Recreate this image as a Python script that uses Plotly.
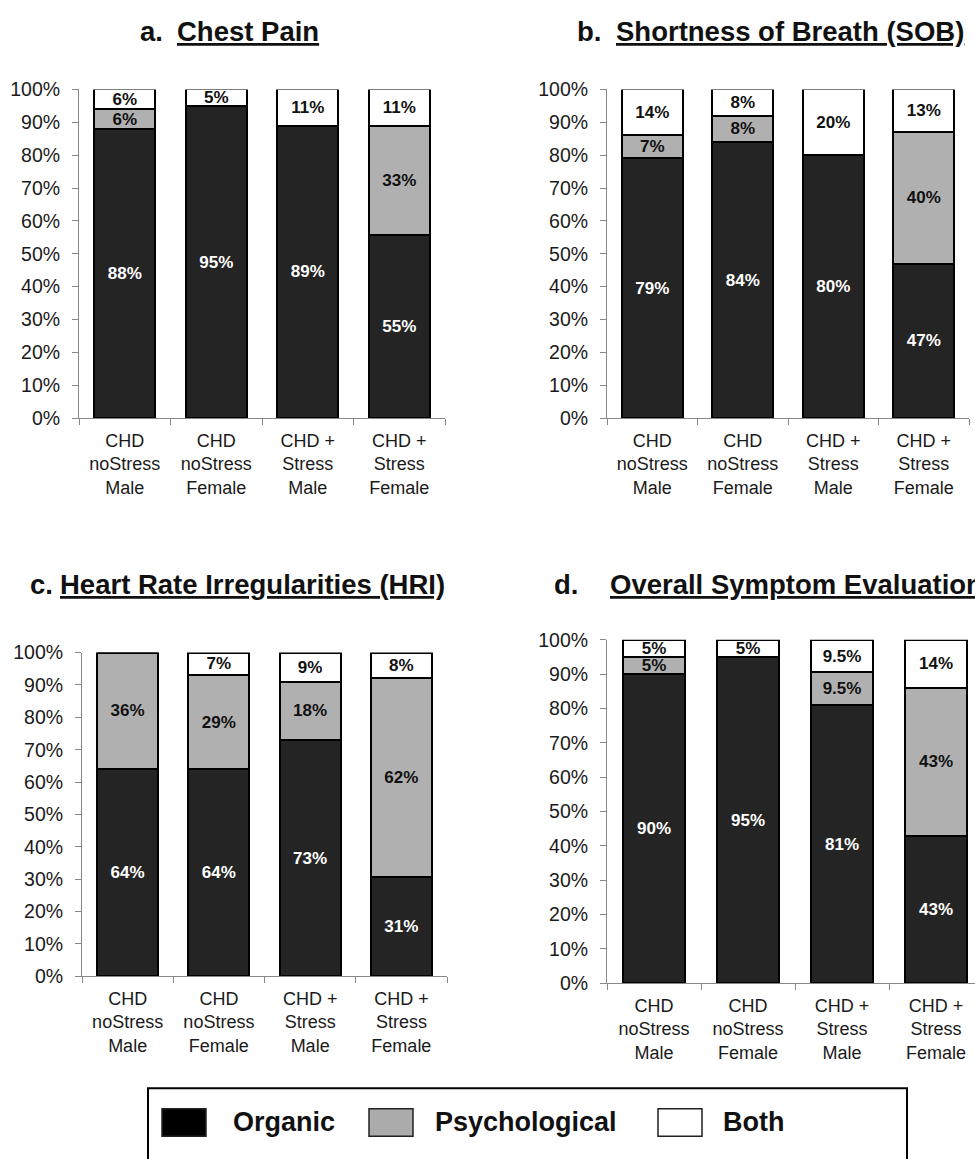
import plotly.graph_objects as go

W, H = 975, 1159
FONT = "Liberation Sans, Arial, sans-serif"

categories = ["CHD<br>noStress<br>Male", "CHD<br>noStress<br>Female",
              "CHD +<br>Stress<br>Male", "CHD +<br>Stress<br>Female"]
series_names = ["Organic", "Psychological", "Both"]
series_colors = ["#242424", "#b0b0b0", "#ffffff"]
label_colors = ["#ffffff", "#111111", "#111111"]
legend_colors = ["#000000", "#ababab", "#ffffff"]
y_ticks = [0, 10, 20, 30, 40, 50, 60, 70, 80, 90, 100]
y_ticktext = ["0%", "10%", "20%", "30%", "40%", "50%", "60%", "70%", "80%", "90%", "100%"]

# a. Chest Pain
a_organic = [88, 95, 89, 55.6]
a_psych = [6, 0, 0, 33.3]
a_both = [6, 5, 11, 11.1]
a_lab_organic = ["88%", "95%", "89%", "55%"]
a_lab_psych = ["6%", "", "", "33%"]
a_lab_both = ["6%", "5%", "11%", "11%"]

# b. Shortness of Breath
b_organic = [79, 84, 80, 47]
b_psych = [7, 8, 0, 40]
b_both = [14, 8, 20, 13]
b_lab_organic = ["79%", "84%", "80%", "47%"]
b_lab_psych = ["7%", "8%", "", "40%"]
b_lab_both = ["14%", "8%", "20%", "13%"]

# c. Heart Rate Irregularities
c_organic = [64, 64, 73, 30.8]
c_psych = [36, 29, 18, 61.5]
c_both = [0, 7, 9, 7.7]
c_lab_organic = ["64%", "64%", "73%", "31%"]
c_lab_psych = ["36%", "29%", "18%", "62%"]
c_lab_both = ["", "7%", "9%", "8%"]

# d. Overall Symptom Evaluation
d_organic = [90, 95, 81, 43]
d_psych = [5, 0, 9.5, 43]
d_both = [5, 5, 9.5, 14]
d_lab_organic = ["90%", "95%", "81%", "43%"]
d_lab_psych = ["5%", "", "9.5%", "43%"]
d_lab_both = ["5%", "5%", "9.5%", "14%"]

panels = [
    ("a.", "Chest Pain", (a_organic, a_psych, a_both), (a_lab_organic, a_lab_psych, a_lab_both)),
    ("b.", "Shortness of Breath (SOB)", (b_organic, b_psych, b_both), (b_lab_organic, b_lab_psych, b_lab_both)),
    ("c.", "Heart Rate Irregularities (HRI)", (c_organic, c_psych, c_both), (c_lab_organic, c_lab_psych, c_lab_both)),
    ("d.", "Overall Symptom Evaluation", (d_organic, d_psych, d_both), (d_lab_organic, d_lab_psych, d_lab_both)),
]

# layout geometry (pixels)
geom = [
    dict(x=(79, 445), y=(80, 415), xr=3.5, title=(138, 175, 21)),
    dict(x=(607, 969), y=(80, 415), xr=3.5, title=(575, 614, 21)),
    dict(x=(82, 447), y=(654, 984), xr=3.5, title=(28, 58, 585)),
    dict(x=(607, 975), y=(641, 991), xr=-0.5 + (975 - 607) / 94.0, title=(552, 608, 585)),
]

def px(x):
    return x / W

def py(y):
    return 1 - y / H

fig = go.Figure()
annotations = []
for i, ((letter, title, vals, labs), g) in enumerate(zip(panels, geom)):
    sfx = "" if i == 0 else str(i + 1)
    for k in range(3):
        fig.add_trace(go.Bar(
            x=categories, y=vals[k], name=series_names[k],
            text=labs[k], textposition="inside", insidetextanchor="middle",
            textangle=0,
            textfont=dict(family=FONT, size=17, color=label_colors[k], weight="bold"),
            marker=dict(color=series_colors[k], line=dict(color="#000000", width=2)),
            xaxis="x" + sfx, yaxis="y" + sfx, showlegend=False, hoverinfo="skip",
        ))
    xa = dict(
        domain=[px(g["x"][0]), px(g["x"][1])], anchor="y" + sfx,
        range=[-0.5, g["xr"]], type="category",
        showline=True, linecolor="#888888", linewidth=1,
        ticks="outside", tickson="boundaries", ticklen=6, tickcolor="#888888",
        tickfont=dict(family=FONT, size=18, color="#1a1a1a"),
        ticklabelstandoff=6, showgrid=False, zeroline=False, fixedrange=True,
    )
    ya = dict(
        domain=[py(g["y"][1]), py(g["y"][0])], anchor="x" + sfx,
        range=[0, 100], tickmode="array", tickvals=y_ticks, ticktext=y_ticktext,
        showline=True, linecolor="#888888", linewidth=1,
        ticks="outside", ticklen=6, tickcolor="#888888",
        tickfont=dict(family=FONT, size=19.5, color="#1a1a1a"),
        ticklabelstandoff=8, showgrid=False, zeroline=False, fixedrange=True,
    )
    fig.layout["xaxis" + sfx] = xa
    fig.layout["yaxis" + sfx] = ya
    tx0, tx1, ty = g["title"]
    annotations.append(dict(
        text="<b>" + letter + "</b>", x=px(tx0), y=py(ty), xref="paper", yref="paper",
        xanchor="left", yanchor="middle", showarrow=False,
        font=dict(family=FONT, size=27.5, color="#111111")))
    annotations.append(dict(
        text="<b><u>" + title + "</u></b>", x=px(tx1), y=py(ty), xref="paper", yref="paper",
        xanchor="left", yanchor="middle", showarrow=False,
        font=dict(family=FONT, size=27.5, color="#111111")))

# legend (drawn manually)
shapes = [dict(type="rect", xref="paper", yref="paper",
               x0=px(148), x1=px(907), y0=py(1175), y1=py(1098),
               line=dict(color="#000000", width=2), fillcolor="rgba(0,0,0,0)")]
legend_swatch_x = [162, 369, 658]
legend_text_x = [231, 433, 721]
for k in range(3):
    shapes.append(dict(type="rect", xref="paper", yref="paper",
                       x0=px(legend_swatch_x[k]), x1=px(legend_swatch_x[k] + 44),
                       y0=py(1147), y1=py(1119),
                       line=dict(color="#222222", width=1.5), fillcolor=legend_colors[k]))
    annotations.append(dict(
        text="<b>" + series_names[k] + "</b>", x=px(legend_text_x[k]), y=py(1133),
        xref="paper", yref="paper", xanchor="left", yanchor="middle", showarrow=False,
        font=dict(family=FONT, size=27, color="#111111")))

fig.update_layout(
    width=W, height=H, margin=dict(l=0, r=0, t=0, b=0),
    barmode="stack", bargap=0.33,
    plot_bgcolor="#ffffff", paper_bgcolor="#ffffff",
    uniformtext=dict(minsize=17, mode="show"),
    annotations=annotations, shapes=shapes, showlegend=False,
)

fig.write_html(
    "out.html",
    config={"displayModeBar": False},
    post_script="document.body.style.margin='0';document.body.style.overflow='hidden';",
)
